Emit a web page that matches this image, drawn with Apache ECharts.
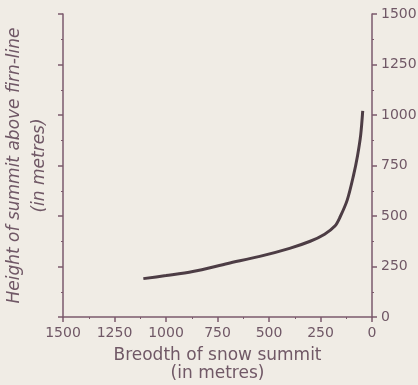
<!DOCTYPE html>
<html>
<head>
<meta charset="utf-8">
<script src="https://cdn.jsdelivr.net/npm/echarts@6/dist/echarts.min.js"></script>
<style>
  html, body { margin: 0; padding: 0; background: #f0ece5; }
  #main { width: 418px; height: 385px; }
</style>
</head>
<body>
<div id="main"></div>
<script>
// 雪顶宽度 (m) 与 高于雪线的高度 (m)
var breadth = [1110, 1000, 870, 700, 545, 400, 300, 230, 180, 155, 120, 90, 70, 55, 45];
var height = [190, 205, 225, 265, 300, 340, 375, 410, 450, 495, 580, 700, 800, 900, 1020];
var xTicks = [0, 250, 500, 750, 1000, 1250, 1500];
var yTicks = [0, 250, 500, 750, 1000, 1250, 1500];

var data = [];
for (var i = 0; i < breadth.length; i++) {
    data.push([breadth[i], height[i]]);
}

var axisColor = '#7b5a6c';
var textColor = '#705866';
var plain = function (v) { return String(v); };

var myChart = echarts.init(document.getElementById('main'));

var option = {
    backgroundColor: '#f0ece5',
    animation: false,
    grid: { left: 63, right: 46, top: 14, bottom: 68, outerBoundsMode: 'none', containLabel: false },
    xAxis: {
        type: 'value',
        inverse: true,
        min: xTicks[0],
        max: xTicks[xTicks.length - 1],
        interval: 250,
        name: 'Breodth of snow summit\n(in metres)',
        nameLocation: 'middle',
        nameGap: 30,
        nameTextStyle: { color: textColor, fontSize: 17, fontFamily: 'DejaVu Sans', lineHeight: 18 },
        axisLine: { onZero: false, lineStyle: { color: axisColor, width: 1.5 } },
        axisTick: { inside: false, length: 5, lineStyle: { color: axisColor, width: 1.5 } },
        minorTick: { show: true, splitNumber: 2, length: 2, lineStyle: { color: axisColor } },
        axisLabel: { color: textColor, fontSize: 14, fontFamily: 'DejaVu Sans', margin: 9, formatter: plain },
        splitLine: { show: false }
    },
    yAxis: [{
        type: 'value',
        position: 'left',
        min: yTicks[0],
        max: yTicks[yTicks.length - 1],
        interval: 250,
        name: 'Height of summit above firn-line\n(in metres)',
        nameLocation: 'middle',
        nameGap: 11,
        nameTextStyle: { color: textColor, fontSize: 17, fontStyle: 'italic', fontFamily: 'DejaVu Sans', lineHeight: 25 },
        axisLine: { show: true, onZero: false, lineStyle: { color: axisColor, width: 1.5 } },
        axisTick: { length: 5, lineStyle: { color: axisColor, width: 1.5 } },
        minorTick: { show: true, splitNumber: 2, length: 2, lineStyle: { color: axisColor } },
        axisLabel: { show: false },
        splitLine: { show: false }
    }, {
        type: 'value',
        position: 'right',
        min: yTicks[0],
        max: yTicks[yTicks.length - 1],
        interval: 250,
        axisLine: { show: true, onZero: false, lineStyle: { color: axisColor, width: 1.5 } },
        axisTick: { length: 5, lineStyle: { color: axisColor, width: 1.5 } },
        minorTick: { show: true, splitNumber: 2, length: 2, lineStyle: { color: axisColor } },
        axisLabel: { color: textColor, fontSize: 14, fontFamily: 'DejaVu Sans', margin: 9, formatter: plain },
        splitLine: { show: false }
    }],
    series: [{
        type: 'line',
        yAxisIndex: 1,
        smooth: 0.3,
        showSymbol: false,
        lineStyle: { color: '#4d3d45', width: 3 },
        data: data
    }]
};

myChart.setOption(option);
</script>
</body>
</html>
